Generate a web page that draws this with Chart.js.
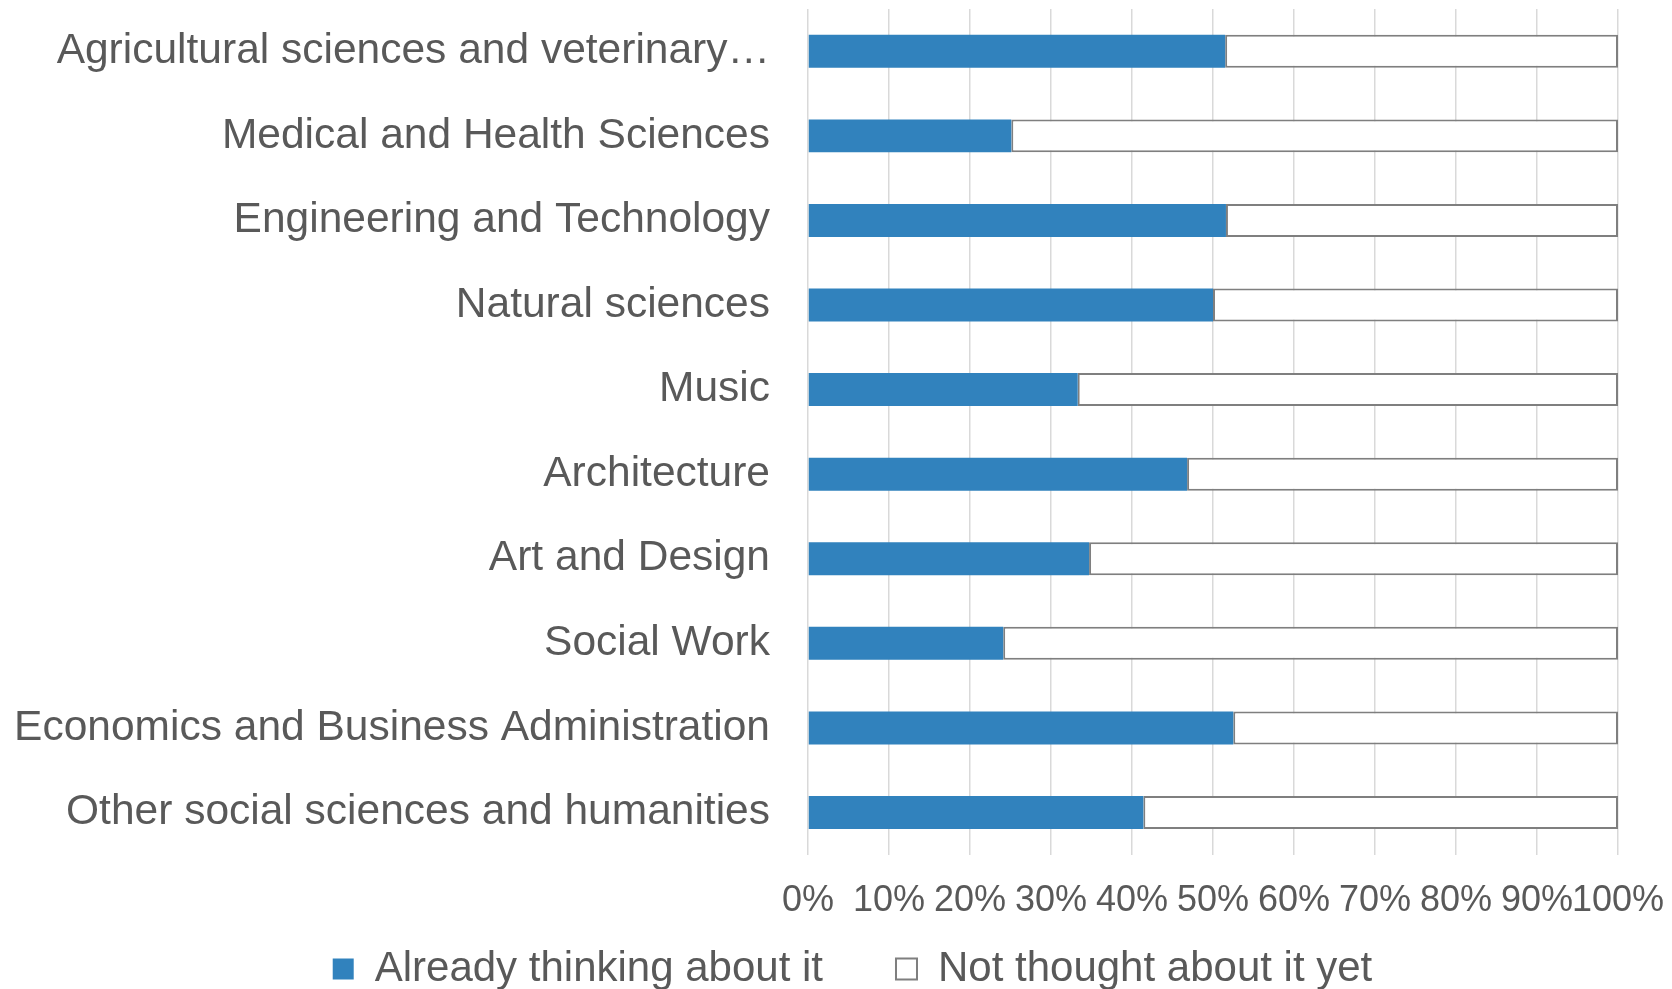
<!DOCTYPE html>
<html>
<head>
<meta charset="utf-8">
<title>Thinking about it, by field of study</title>
<script src="https://cdn.jsdelivr.net/npm/chart.js@4.4.1/dist/chart.umd.min.js"></script>
<style>
  html, body { margin: 0; padding: 0; background: #fff; }
  #wrap { width: 1672px; height: 989px; position: relative; }
</style>
</head>
<body>
<div id="wrap"><canvas id="fieldChart"></canvas></div>
<script>
const fields = [
    "Agricultural sciences and veterinary\u2026",
    "Medical and Health Sciences",
    "Engineering and Technology",
    "Natural sciences",
    "Music",
    "Architecture",
    "Art and Design",
    "Social Work",
    "Economics and Business Administration",
    "Other social sciences and humanities"
];

// share of respondents, in percent
const alreadyThinking = [51.5, 25.1, 51.6, 50.0, 33.3, 46.8, 34.7, 24.1, 52.5, 41.4];
const notThoughtYet = [48.5, 74.9, 48.4, 50.0, 66.7, 53.2, 65.3, 75.9, 47.5, 58.6];

const seriesNames = ["Already thinking about it", "Not thought about it yet"];
const percentTicks = [0, 10, 20, 30, 40, 50, 60, 70, 80, 90, 100];

const textColor = '#595959';
const fontFamily = '"Liberation Sans", Arial, sans-serif';

// legend items sit further apart than the padding Chart.js would use,
// so the legend box is reserved small and moved into place after layout
// (only top moves, bottom stays so the legend clip area still covers the text)
const legendNudge = {
    id: 'legendNudge',
    afterLayout(chart) {
        const lg = chart.legend;
        lg.top -= 73;
        lg.left += 37;
        lg.right += 37;
    }
};

const ctx = document.getElementById('fieldChart').getContext('2d');

new Chart(ctx, {
    type: 'bar',
    data: {
        labels: fields,
        datasets: [{
            label: seriesNames[0],
            data: alreadyThinking,
            backgroundColor: '#3182bd',
            borderColor: '#3182bd',
            borderWidth: 0,
            barPercentage: 0.39,
            categoryPercentage: 1
        }, {
            label: seriesNames[1],
            data: notThoughtYet,
            backgroundColor: '#ffffff',
            borderColor: '#7f7f7f',
            borderWidth: 2,
            borderSkipped: false,
            barPercentage: 0.39,
            categoryPercentage: 1
        }]
    },
    options: {
        indexAxis: 'y',
        responsive: true,
        maintainAspectRatio: false,
        animation: false,
        layout: { padding: { left: 13, right: 54, top: 9, bottom: 0 } },
        scales: {
            x: {
                stacked: true,
                min: 0,
                max: 100,
                afterBuildTicks(scale) {
                    scale.ticks = percentTicks.map(v => ({ value: v }));
                },
                afterFit(scale) {
                    // the "100%" label may hang into the layout padding
                    scale.paddingLeft = 0;
                    scale.paddingRight = 0;
                },
                grid: { color: '#d9d9d9', lineWidth: 1.5, drawTicks: false },
                border: { display: false },
                ticks: {
                    color: textColor,
                    font: { family: fontFamily, size: 36 },
                    padding: 25,
                    maxRotation: 0,
                    autoSkip: false,
                    callback: v => v + '%'
                }
            },
            y: {
                stacked: true,
                grid: { display: false, drawTicks: false },
                border: { display: false },
                afterFit(scale) {
                    // fixed label column; no extra room above/below the bands
                    scale.width = 795;
                    scale.paddingTop = 0;
                    scale.paddingBottom = 0;
                },
                ticks: {
                    color: textColor,
                    font: { family: fontFamily, size: 42.5 },
                    padding: 38
                }
            }
        },
        plugins: {
            legend: {
                position: 'bottom',
                maxHeight: 41,
                labels: {
                    color: textColor,
                    font: { family: fontFamily, size: 42 },
                    boxWidth: 21,
                    boxHeight: 21,
                    padding: 73
                }
            },
            tooltip: { enabled: false }
        }
    },
    plugins: [legendNudge]
});
</script>
</body>
</html>
